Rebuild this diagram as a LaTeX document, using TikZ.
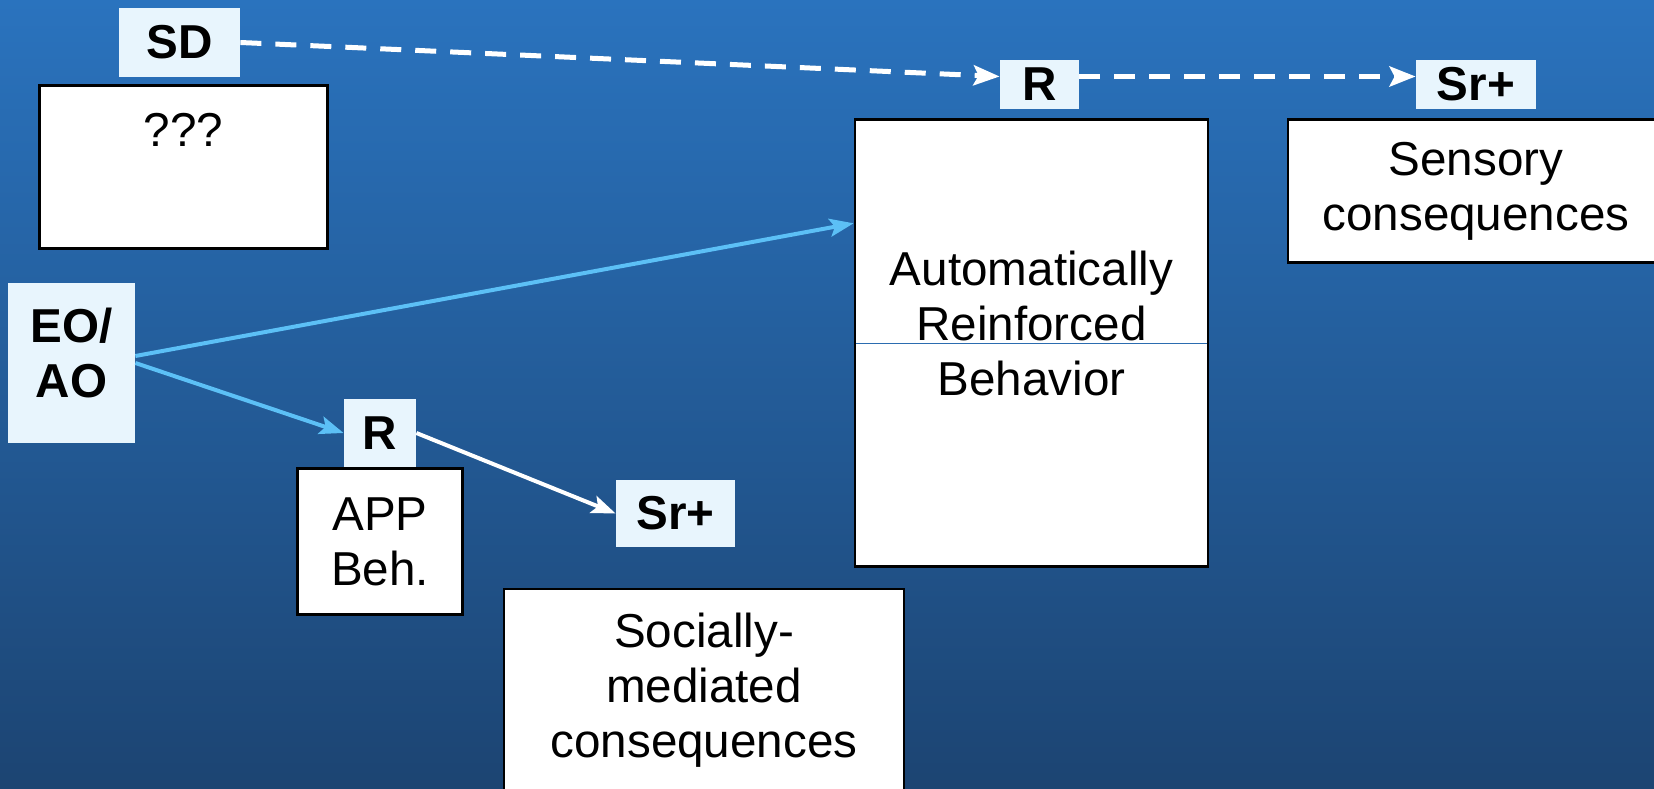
\documentclass[tikz,border=0pt]{standalone}
\usepackage{fontspec}
\setmainfont{Liberation Sans}
\usepackage{xcolor}
\usepackage{tikz}
\usetikzlibrary{arrows.meta,positioning}
\definecolor{bgtop}{RGB}{42,115,190}
\definecolor{bgbot}{RGB}{28,68,114}
\definecolor{palefill}{RGB}{232,245,253}
\definecolor{skyarr}{RGB}{92,192,246}
\definecolor{rulecol}{RGB}{43,108,176}
\newcommand{\figfont}{\fontsize{23.8}{27.5}\selectfont}
\tikzset{
  lbox/.style={fill=palefill, align=center, font=\figfont\bfseries, inner sep=0pt},
  wbox/.style={draw=black, line width=1.4pt, fill=white, align=center, inner sep=0pt},
  darr/.style={-{Stealth[length=13pt, width=10pt, inset=2.5pt]}, white, line width=2.5pt, dash pattern=on 10.5pt off 7pt},
  barr/.style={-{Stealth[length=12pt, width=9pt, inset=2.5pt]}, skyarr, line width=2pt},
  warr/.style={-{Stealth[length=12pt, width=9pt, inset=2.5pt]}, white, line width=2pt}
}
\begin{document}
\begin{tikzpicture}[x=0.5pt, y=0.5pt, font=\figfont]
\useasboundingbox (0,0) rectangle (1654,788);
\fill[top color=bgtop, bottom color=bgbot] (0,0) rectangle (1654,788);
\node[lbox, minimum width=60.5pt, minimum height=34.5pt] (sd) at (179.5,745.5) {SD};
\node[wbox, minimum width=144pt, minimum height=81.5pt, below=3.5pt of sd, xshift=2pt] (qbox) {};
\node (qtext) at ([yshift=-22.5pt]qbox.north) {???};
\node[lbox, minimum width=39.5pt, minimum height=24.5pt] (rtop) at (1039.5,703.5) {R};
\node[lbox, minimum width=60pt, minimum height=24.5pt] (srtop) at (1476,703.5) {Sr+};
\node[wbox, minimum width=188pt, minimum height=71.5pt, below=4.5pt of srtop] (sens) {Sensory\\consequences};
\node[wbox, minimum width=176.5pt, minimum height=223.5pt, below=4.5pt of rtop, xshift=-4pt] (auto) {};
\node[align=center] (autotext) at ([yshift=10pt]auto.center) {Automatically\\Reinforced\\Behavior};
\draw[rulecol, line width=0.6pt, shorten <=1pt, shorten >=1pt] (auto.west) -- (auto.east);
\node[lbox, minimum width=63.5pt, minimum height=80pt] (eo) at (71.5,425) {};
\node[align=center, font=\figfont\bfseries] (eotext) at ([yshift=5pt]eo.center) {EO/\\AO};
\node[lbox, minimum width=36pt, minimum height=34pt] (rlow) at (380,355) {R};
\node[wbox, minimum width=82.5pt, minimum height=73pt, below=0pt of rlow] (app) {APP\\Beh.};
\node[lbox, minimum width=59.5pt, minimum height=33.5pt] (srlow) at (675.5,274.5) {Sr+};
\node[wbox, minimum width=200pt, minimum height=101.5pt] (soc) at (704,97.5) {Socially-\\mediated\\consequences};
\draw[darr] (sd.east) -- ([yshift=4pt]rtop.west);
\draw[darr] ([yshift=4pt]rtop.east) -- ([yshift=4pt]srtop.west);
\draw[barr] ([yshift=3.5pt]eo.east) -- ([yshift=60pt]auto.west);
\draw[barr] (eo.east) -- (rlow.west);
\draw[warr] (rlow.east) -- (srlow.west);
\end{tikzpicture}
\end{document}
